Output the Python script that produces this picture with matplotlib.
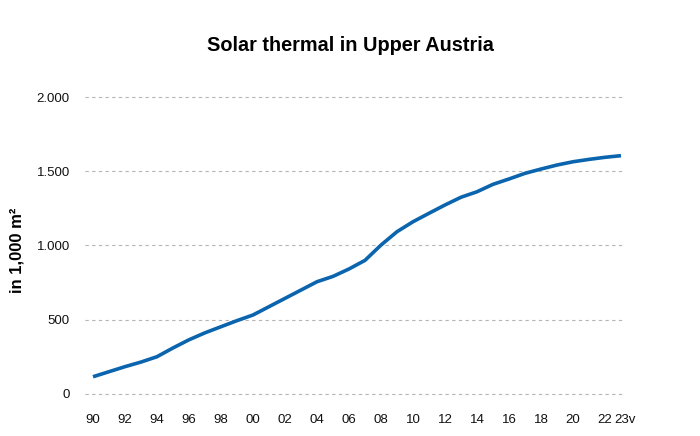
import matplotlib.pyplot as plt
from matplotlib.transforms import ScaledTranslation

years = list(range(1990, 2024))
area = [116, 150, 184, 215, 251, 310, 365, 412, 453, 494,
        532, 588, 644, 700, 756, 792, 842, 900, 1003, 1093,
        1160, 1217, 1273, 1325, 1362, 1412, 1448, 1486, 1515, 1542,
        1564, 1580, 1594, 1605]
tick_years = list(range(1990, 2023, 2)) + [2023]
tick_labels = [f"{y % 100:02d}" for y in range(1990, 2023, 2)] + ["23v"]
y_ticks = [0, 500, 1000, 1500, 2000]
y_labels = ["0", "500", "1.000", "1.500", "2.000"]

plt.rcParams["font.family"] = ["Liberation Sans", "DejaVu Sans"]

fig = plt.figure(figsize=(7, 4.36), dpi=100)
ax = fig.add_axes([85 / 700, (436 - 401.4) / 436, 540 / 700, 311.8 / 436])

ax.plot(years, area, color="#0a64ae", lw=2.6, solid_capstyle="butt", zorder=3)

ax.set_xlim(1989.5, 2023.25)
ax.set_ylim(-50, 2050)
ax.set_xticks(tick_years)
ax.set_xticklabels(tick_labels)
ax.set_yticks(y_ticks)
ax.set_yticklabels(y_labels)
ax.tick_params(length=0, labelsize=9.5, colors="#111111")
ax.tick_params(axis="y", pad=11)
ax.tick_params(axis="x", pad=9)
# nudge the last label so "22" and "23v" do not collide
last = ax.get_xticklabels()[-1]
last.set_transform(last.get_transform() + ScaledTranslation(4 / 100, 0, fig.dpi_scale_trans))
ax.grid(axis="y", color="#b5b5b5", ls=(0, (3, 3)), lw=0.8)
for s in ax.spines.values():
    s.set_visible(False)

fig.text(17 / 700, 1 - 250 / 436, "in 1,000 m²", rotation=90, ha="center", va="center",
         fontsize=12, fontweight="bold")
fig.text(0.5, 0.895, "Solar thermal in Upper Austria", ha="center", va="center",
         fontsize=14.3, fontweight="bold")

fig.savefig("out.png", dpi=100)
